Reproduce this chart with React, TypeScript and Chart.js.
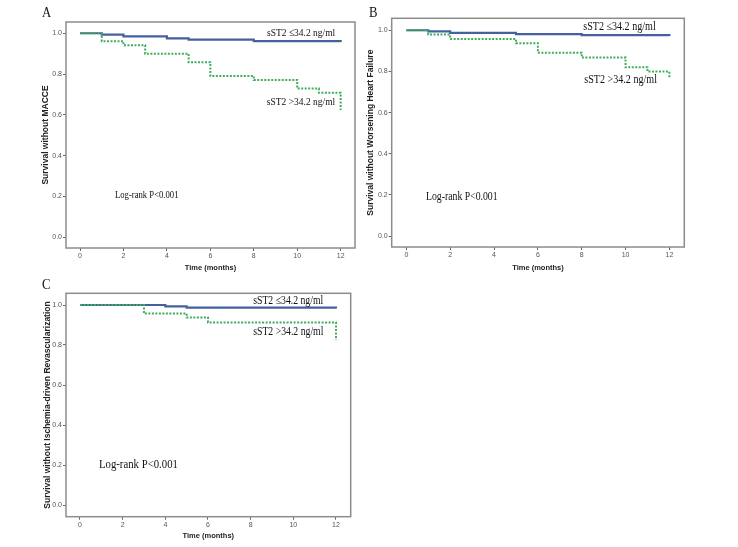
import React, { useEffect, useRef } from "react";
import { Chart, registerables } from "chart.js";

Chart.register(...registerables);

// ---------- data ----------
const xTicks = [0, 2, 4, 6, 8, 10, 12];
const yTicks = [0, 0.2, 0.4, 0.6, 0.8, 1.0];
const xTitle = "Time (months)";
const lowLabel = "sST2 \u226434.2 ng/ml";
const highLabel = "sST2 >34.2 ng/ml";
const pLabel = "Log-rank P<0.001";

// Panel A – MACCE
const aTitle = "Survival without MACCE";
const aLowTime = [0, 1, 2, 4, 5, 8, 12];
const aLowSurv = [1, 0.993, 0.985, 0.975, 0.969, 0.961, 0.957];
const aHighTime = [0, 1, 2, 3, 5, 6, 8, 10, 11, 12];
const aHighSurv = [1, 0.961, 0.941, 0.899, 0.858, 0.791, 0.771, 0.729, 0.708, 0.624];

// Panel B – Worsening heart failure
const bTitle = "Survival without Worsening Heart Failure";
const bLowTime = [0, 1, 2, 5, 8, 12];
const bLowSurv = [1, 0.994, 0.987, 0.981, 0.976, 0.972];
const bHighTime = [0, 1, 2, 5, 6, 8, 10, 11, 12];
const bHighSurv = [1, 0.979, 0.958, 0.937, 0.891, 0.867, 0.82, 0.799, 0.771];

// Panel C – Ischemia-driven revascularization
const cTitle = "Survival without Ischemia-driven Revascularization";
const cLowTime = [0, 4, 5, 12];
const cLowSurv = [1, 0.993, 0.987, 0.982];
const cHighTime = [0, 3, 5, 6, 12];
const cHighSurv = [1, 0.957, 0.937, 0.913, 0.825];

// ---------- styling ----------
const BLUE = "#45609f";
const GREEN = "#3fae5c";
const FRAME = "#8c8c8c";
const SERIF = "'Liberation Serif', 'Times New Roman', serif";
const SANS = "'Liberation Sans', Arial, sans-serif";

const pts = (t: number[], s: number[]) => t.map((x, i) => ({ x, y: s[i] }));

const framePlugin = {
  id: "kmFrame",
  afterDraw(chart: any) {
    const { ctx, chartArea: a } = chart;
    ctx.save();
    ctx.strokeStyle = FRAME;
    ctx.lineWidth = 1.5;
    ctx.strokeRect(a.left, a.top, a.right - a.left, a.bottom - a.top);
    ctx.restore();
  },
};

const textPlugin = {
  id: "kmText",
  afterDatasetsDraw(chart: any, _args: any, opts: any) {
    const { ctx } = chart;
    const xs = chart.scales.x;
    const ys = chart.scales.y;
    ctx.save();
    ctx.fillStyle = "#111";
    ctx.textBaseline = "middle";
    ctx.textAlign = "left";
    for (const it of opts.items || []) {
      const px = xs.getPixelForValue(it.x);
      const py = ys.getPixelForValue(it.y);
      ctx.save();
      ctx.translate(px, py);
      ctx.scale(0.84, 1);
      ctx.font = `${it.size}px ${SERIF}`;
      ctx.fillText(it.text, 0, 0);
      ctx.restore();
    }
    ctx.restore();
  },
};

type PanelProps = {
  left: number;
  top: number;
  width: number;
  height: number;
  yAxisW: number;
  xAxisH: number;
  padTop: number;
  padRight: number;
  yTitlePad: number;
  xTitlePad: number;
  yTitle: string;
  low: { x: number; y: number }[];
  high: { x: number; y: number }[];
  texts: { text: string; x: number; y: number; size: number }[];
  xMin: number;
  xMax: number;
  yMin: number;
  yMax: number;
};

function KMPanel(p: PanelProps) {
  const ref = useRef<HTMLCanvasElement | null>(null);
  useEffect(() => {
    if (!ref.current) return;
    const chart = new Chart(ref.current, {
      type: "line",
      data: {
        datasets: [
          {
            label: highLabel,
            data: p.high,
            stepped: true,
            borderColor: GREEN,
            borderWidth: 2,
            borderDash: [2, 1.5],
            pointRadius: 0,
            fill: false,
          },
          {
            label: lowLabel,
            data: p.low,
            stepped: true,
            borderColor: BLUE,
            borderWidth: 2.2,
            pointRadius: 0,
            fill: false,
          },
        ],
      },
      options: {
        animation: false,
        responsive: false,
        devicePixelRatio: 1,
        layout: { padding: { top: p.padTop, right: p.padRight, left: 0, bottom: 0 } },
        plugins: {
          legend: { display: false },
          tooltip: { enabled: false },
          kmText: { items: p.texts },
        } as any,
        scales: {
          x: {
            type: "linear",
            min: p.xMin,
            max: p.xMax,
            afterBuildTicks: (s: any) => {
              s.ticks = xTicks.map((v) => ({ value: v }));
            },
            afterFit: (s: any) => {
              s.height = p.xAxisH;
            },
            ticks: {
              color: "#555",
              font: { size: 7, family: SANS },
              padding: 1,
              maxRotation: 0,
              autoSkip: false,
              callback: (v: any) => String(v),
            },
            grid: {
              display: true,
              drawOnChartArea: false,
              drawTicks: true,
              tickLength: 3,
              color: "#666",
            },
            border: { display: false },
            title: {
              display: true,
              text: xTitle,
              color: "#222",
              font: { size: 7.5, weight: "bold", family: SANS },
              padding: { top: 0, bottom: p.xTitlePad },
            },
          },
          y: {
            type: "linear",
            min: p.yMin,
            max: p.yMax,
            afterBuildTicks: (s: any) => {
              s.ticks = yTicks.map((v) => ({ value: v }));
            },
            afterFit: (s: any) => {
              s.width = p.yAxisW;
            },
            ticks: {
              color: "#555",
              font: { size: 7, family: SANS },
              padding: 1,
              autoSkip: false,
              callback: (v: any) => Number(v).toFixed(1),
            },
            grid: {
              display: true,
              drawOnChartArea: false,
              drawTicks: true,
              tickLength: 3,
              color: "#666",
            },
            border: { display: false },
            title: {
              display: true,
              text: p.yTitle,
              color: "#222",
              font: { size: 8.5, weight: "bold", family: SANS },
              padding: { top: p.yTitlePad, bottom: 0 },
            },
          },
        },
      } as any,
      plugins: [framePlugin, textPlugin],
    });
    return () => chart.destroy();
  }, []);
  return (
    <canvas
      ref={ref}
      width={p.width}
      height={p.height}
      style={{ position: "absolute", left: p.left, top: p.top, width: p.width, height: p.height }}
    />
  );
}

const letterStyle = (left: number, top: number): React.CSSProperties => ({
  position: "absolute",
  left,
  top,
  fontFamily: SERIF,
  fontSize: 15,
  lineHeight: "15px",
  color: "#111",
  transform: "scaleX(0.85)",
  transformOrigin: "left top",
});

export default function App() {
  return (
    <div
      style={{
        position: "absolute",
        left: 0,
        top: 0,
        width: 738,
        height: 547,
        background: "#fff",
        overflow: "hidden",
      }}
    >
      <KMPanel
        left={30}
        top={0}
        width={335}
        height={275}
        yAxisW={36}
        xAxisH={27}
        padTop={22}
        padRight={10}
        yTitlePad={11}
        xTitlePad={2.6}
        yTitle={aTitle}
        low={pts(aLowTime, aLowSurv)}
        high={pts(aHighTime, aHighSurv)}
        xMin={-0.645}
        xMax={12.66}
        yMin={-0.052}
        yMax={1.055}
        texts={[
          { text: lowLabel, x: 8.61, y: 1.0, size: 11.3 },
          { text: highLabel, x: 8.6, y: 0.665, size: 11.3 },
          { text: pLabel, x: 1.61, y: 0.204, size: 10.3 },
        ]}
      />
      <KMPanel
        left={361}
        top={0}
        width={335}
        height={275}
        yAxisW={30.7}
        xAxisH={28}
        padTop={18.3}
        padRight={11.7}
        yTitlePad={4.6}
        xTitlePad={2.9}
        yTitle={bTitle}
        low={pts(bLowTime, bLowSurv)}
        high={pts(bHighTime, bHighSurv)}
        xMin={-0.667}
        xMax={12.68}
        yMin={-0.053}
        yMax={1.058}
        texts={[
          { text: lowLabel, x: 8.07, y: 1.017, size: 12 },
          { text: highLabel, x: 8.12, y: 0.758, size: 12 },
          { text: pLabel, x: 0.9, y: 0.188, size: 11.6 },
        ]}
      />
      <KMPanel
        left={30}
        top={270}
        width={335}
        height={277}
        yAxisW={36}
        xAxisH={30.3}
        padTop={23.3}
        padRight={14.3}
        yTitlePad={12.5}
        xTitlePad={6.6}
        yTitle={cTitle}
        low={pts(cLowTime, cLowSurv)}
        high={pts(cHighTime, cHighSurv)}
        xMin={-0.656}
        xMax={12.69}
        yMin={-0.0585}
        yMax={1.0585}
        texts={[
          { text: lowLabel, x: 8.12, y: 1.021, size: 11.6 },
          { text: highLabel, x: 8.12, y: 0.863, size: 11.6 },
          { text: pLabel, x: 0.89, y: 0.2, size: 12.8 },
        ]}
      />
      <div style={letterStyle(42, 5)}>A</div>
      <div style={letterStyle(369, 5)}>B</div>
      <div style={letterStyle(42, 277)}>C</div>
    </div>
  );
}
